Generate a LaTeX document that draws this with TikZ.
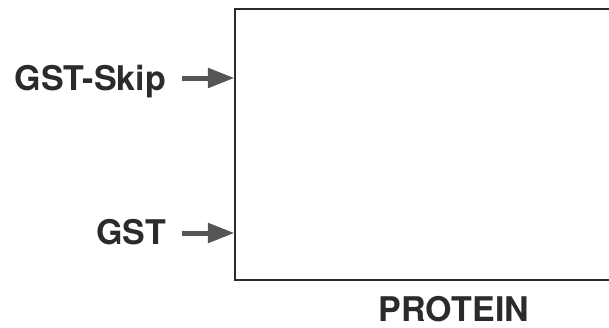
\documentclass[tikz,border=0pt]{standalone}
\usepackage{fontspec}
\setmainfont{TeX Gyre Heros}
\definecolor{ink}{HTML}{2B2B2B}
\definecolor{arrowgray}{HTML}{555555}
\tikzset{
  label/.style={inner sep=0pt, font=\fontsize{34}{34}\selectfont\bfseries, text=ink},
  shaft/.style={draw=arrowgray, line width=5pt},
  headfill/.style={fill=arrowgray, draw=arrowgray, line width=0.5pt, line join=miter},
}
\begin{document}
\begin{tikzpicture}[x=1pt,y=-1pt]
\useasboundingbox (0,0) rectangle (609,327);
\clip (0,0) rectangle (609,327);
% open box (right side outside the picture)
\coordinate (tr) at (650,9);
\coordinate (tl) at (235,9);
\coordinate (bl) at (235,280);
\coordinate (br) at (650,280);
\draw[line width=2pt, draw=ink] (tr) -- (tl) -- (bl) -- (br);
\coordinate (skipend) at (233,78);
\coordinate (gstend) at (233,233);
\node[label, anchor=base east] (skip) at (166,90) {GST-Skip};
\node[label, anchor=base east] (gst) at (166,244) {GST};
\node[label, anchor=base] (protein) at (454,321) {PROTEIN};
\draw[shaft] (skip.east |- skipend) ++(16,0) -- ++(30,0);
\fill[headfill] (skipend) -- ++(-25,-10) -- ++(0,20) -- cycle;
\draw[shaft] (gst.east |- gstend) ++(16,0) -- ++(30,0);
\fill[headfill] (gstend) -- ++(-25,-10) -- ++(0,20) -- cycle;
\end{tikzpicture}
\end{document}
